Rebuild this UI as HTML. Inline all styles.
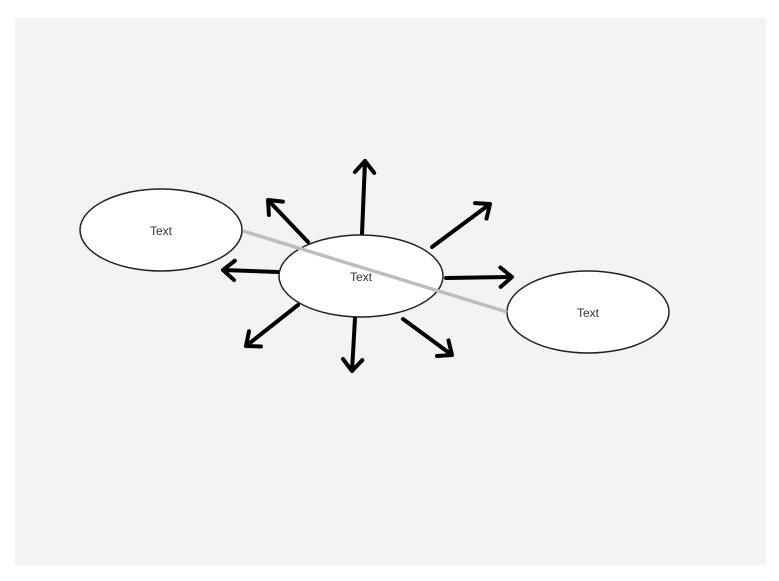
<!DOCTYPE html>
<html><head><meta charset="utf-8"><style>
body{margin:0;background:#fff;}
svg{display:block;}
text{font-family:"Liberation Sans","DejaVu Sans",sans-serif;font-size:12px;fill:#333;}
</style></head><body>
<svg width="779" height="581" viewBox="0 0 779 581">
<rect x="15" y="18" width="751" height="547" fill="#f3f3f3"/>
<g id="arrows"></g>
<g>
<ellipse cx="161" cy="230" rx="81" ry="41" fill="#fff" stroke="#222" stroke-width="1.5"/>
<text x="161" y="235" text-anchor="middle">Text</text></g>
<g>
<ellipse cx="588" cy="312" rx="81" ry="41" fill="#fff" stroke="#222" stroke-width="1.5"/>
<text x="588" y="317" text-anchor="middle">Text</text></g>
<g>
<ellipse cx="361" cy="276" rx="82" ry="41" fill="#fff" stroke="#222" stroke-width="1.5"/>
<text x="361" y="281" text-anchor="middle">Text</text></g>
<line x1="243" y1="231" x2="507" y2="312" stroke="#bdbdbd" stroke-width="3.5"/>
</svg>
<script>
const arrows=[[362,234,365,161],[308,242,268,200],[432,247,490,204],[446,278,512,277],[278,272,223,270],[298,305,246,346],[355,318,352,371],[403,319,452,355]];
const g=document.getElementById('arrows');
const ns='http://www.w3.org/2000/svg';
arrows.forEach(a=>{
  const [x1,y1,x2,y2]=a;
  const ang=Math.atan2(y2-y1,x2-x1),L=15;
  const p=document.createElementNS(ns,'path');
  const ax=x2-L*Math.cos(ang-0.7),ay=y2-L*Math.sin(ang-0.7);
  const bx=x2-L*Math.cos(ang+0.7),by=y2-L*Math.sin(ang+0.7);
  p.setAttribute('d',`M${x1},${y1}L${x2},${y2}M${ax},${ay}L${x2},${y2}L${bx},${by}`);
  p.setAttribute('stroke','#000');p.setAttribute('stroke-width','4');p.setAttribute('fill','none');
  p.setAttribute('stroke-linecap','round');p.setAttribute('stroke-linejoin','round');
  
  
  g.appendChild(p);
});
</script>
</body></html>
